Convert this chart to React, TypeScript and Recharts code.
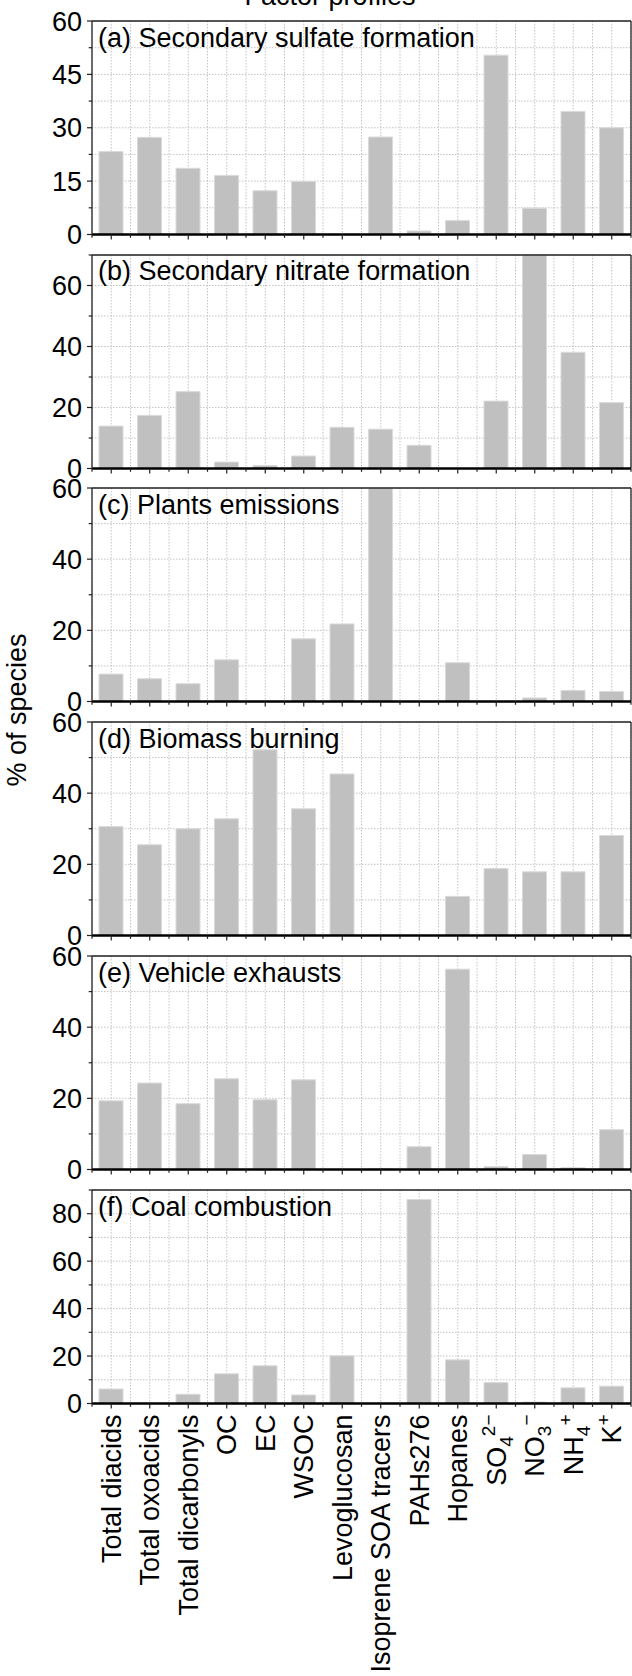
import React from 'react';
import { BarChart, Bar, XAxis, YAxis, CartesianGrid, ReferenceLine } from 'recharts';

// ---------- data ----------
const categories = [
  'Total diacids',
  'Total oxoacids',
  'Total dicarbonyls',
  'OC',
  'EC',
  'WSOC',
  'Levoglucosan',
  'Isoprene SOA tracers',
  'PAHs276',
  'Hopanes',
  'SO_{4}^{2−}',
  'NO_{3}^{−}',
  'NH_{4}^{+}',
  'K^{+}',
];

const sulfate = [23.3, 27.3, 18.6, 16.6, 12.3, 14.9, 0, 27.4, 1.0, 3.9, 50.4, 7.4, 34.6, 30.0];
const nitrate = [13.9, 17.4, 25.2, 2.1, 1.0, 4.1, 13.5, 12.9, 7.6, 0, 22.1, 70, 38.1, 21.6];
const plants = [7.7, 6.4, 5.0, 11.7, 0, 17.6, 21.8, 60, 0, 10.9, 0, 1.0, 3.1, 2.8];
const biomass = [30.6, 25.5, 30.0, 32.8, 52.2, 35.6, 45.4, 0, 0, 11.0, 18.8, 17.9, 17.9, 28.1];
const vehicle = [19.3, 24.3, 18.5, 25.5, 19.6, 25.2, 0, 0.3, 6.4, 56.3, 0.8, 4.2, 0.5, 11.2];
const coal = [6.1, 0, 3.9, 12.5, 15.9, 3.6, 20.1, 0, 86.0, 18.4, 8.8, 0.6, 6.6, 7.3];

const ticksA = [0, 7.5, 15, 22.5, 30, 37.5, 45, 52.5, 60];
const labelsA = [0, 15, 30, 45, 60];
const ticksB = [0, 10, 20, 30, 40, 50, 60, 70];
const ticks60 = [0, 10, 20, 30, 40, 50, 60];
const labels60 = [0, 20, 40, 60];
const ticksF = [0, 10, 20, 30, 40, 50, 60, 70, 80, 90];
const labelsF = [0, 20, 40, 60, 80];

const panelTitles = [
  '(a) Secondary sulfate formation',
  '(b) Secondary nitrate formation',
  '(c) Plants emissions',
  '(d) Biomass burning',
  '(e) Vehicle exhausts',
  '(f) Coal combustion',
];

// ---------- derived tables ----------
const tableData = categories.map((name, i) => ({
  name,
  pos: i + 0.5,
  sulfate: sulfate[i],
  nitrate: nitrate[i],
  plants: plants[i],
  biomass: biomass[i],
  vehicle: vehicle[i],
  coal: coal[i],
}));

const xTicks = categories.flatMap((_, i) => [i, i + 0.5]).concat([categories.length]);

const panels = [
  { key: 'sulfate', title: panelTitles[0], max: 60, ticks: ticksA, labels: labelsA },
  { key: 'nitrate', title: panelTitles[1], max: 70, ticks: ticksB, labels: labels60 },
  { key: 'plants', title: panelTitles[2], max: 60, ticks: ticks60, labels: labels60 },
  { key: 'biomass', title: panelTitles[3], max: 60, ticks: ticks60, labels: labels60 },
  { key: 'vehicle', title: panelTitles[4], max: 60, ticks: ticks60, labels: labels60 },
  { key: 'coal', title: panelTitles[5], max: 90, ticks: ticksF, labels: labelsF },
];

// ---------- layout ----------
const W = 632;
const H = 1676;
const AXIS_W = 92;
const PLOT_TOP0 = 20.7;
const PITCH = 233.8;
const PLOT_H = 213.5;
const TOP_M = 20;
const XAX_H = 22;
const FONT = '"Liberation Sans", Arial, Helvetica, sans-serif';
const FS = 27;
const AXIS_COLOR = '#222';

type Seg = { t: string; s: 'n' | 'sub' | 'sup' };
function parseLabel(label: string): Seg[] {
  const parts = label.split(/(_\{[^}]*\}|\^\{[^}]*\})/).filter((p) => p.length > 0);
  return parts.map((p) => {
    if (p.startsWith('_{')) return { t: p.slice(2, -1), s: 'sub' as const };
    if (p.startsWith('^{')) return { t: p.slice(2, -1), s: 'sup' as const };
    return { t: p, s: 'n' as const };
  });
}

const RichText = ({ label }: { label: string }) => {
  const segs = parseLabel(label);
  let cur = 0;
  return (
    <>
      {segs.map((sg, i) => {
        const target = sg.s === 'sub' ? 7 : sg.s === 'sup' ? -11 : 0;
        const dy = target - cur;
        cur = target;
        return (
          <tspan key={i} dy={dy !== 0 ? dy : undefined} fontSize={sg.s === 'n' ? FS : 19}>
            {sg.t}
          </tspan>
        );
      })}
    </>
  );
};

const YTick = (props: any) => {
  const { x, y, payload, majors } = props;
  const major = majors.includes(payload.value);
  return (
    <g>
      <line x1={x - (major ? 5 : 3.3)} x2={x} y1={y} y2={y} stroke={AXIS_COLOR} strokeWidth={1.2} />
      {major && (
        <text x={x - 10} y={y} dy="0.355em" textAnchor="end" fontSize={FS} fontFamily={FONT} fill="#000">
          {payload.value}
        </text>
      )}
    </g>
  );
};

const XTick = (props: any) => {
  const { x, y, payload, showLabels } = props;
  const v = payload.value as number;
  const major = Math.abs(v - Math.floor(v) - 0.5) < 1e-6;
  const label = major ? categories[Math.floor(v)] : null;
  return (
    <g>
      <line x1={x} x2={x} y1={y} y2={y + (major ? 5 : 3.3)} stroke={AXIS_COLOR} strokeWidth={1.2} />
      {showLabels && label && (
        <g transform={`translate(${x},${y + 11}) rotate(-90)`}>
          <text x={0} y={0} dy="0.36em" textAnchor="end" fontSize={FS} fontFamily={FONT} fill="#000">
            <RichText label={label} />
          </text>
        </g>
      )}
    </g>
  );
};

const Panel = ({ idx }: { idx: number }) => {
  const p = panels[idx];
  const last = idx === panels.length - 1;
  const plotTop = PLOT_TOP0 + idx * PITCH;
  const xh = last ? H - (plotTop + PLOT_H) : XAX_H;
  const chartH = TOP_M + PLOT_H + xh;
  return (
    <div style={{ position: 'absolute', left: 0, top: plotTop - TOP_M, width: W, height: chartH }}>
      <BarChart
        width={W}
        height={chartH}
        data={tableData}
        margin={{ top: TOP_M, right: 1, bottom: 0, left: 0 }}
        style={{ overflow: 'visible' }}
      >
        <CartesianGrid stroke="#c4c4c4" strokeDasharray="1.5 1.5" strokeWidth={1} />
        <XAxis
          type="number"
          dataKey="pos"
          domain={[0, categories.length]}
          ticks={xTicks}
          interval={0}
          height={xh}
          tickSize={0}
          tickMargin={0}
          tickLine={false}
          axisLine={{ stroke: '#000', strokeWidth: 2.5 }}
          tick={(tp: any) => <XTick {...tp} showLabels={last} />}
        />
        <YAxis
          type="number"
          domain={[0, p.max]}
          ticks={p.ticks}
          interval={0}
          allowDataOverflow
          width={AXIS_W}
          tickSize={0}
          tickMargin={0}
          tickLine={false}
          axisLine={{ stroke: AXIS_COLOR, strokeWidth: 1.3 }}
          tick={(tp: any) => <YTick {...tp} majors={p.labels} />}
        />
        <ReferenceLine y={p.max} stroke={AXIS_COLOR} strokeWidth={1.3} />
        <ReferenceLine x={categories.length} stroke={AXIS_COLOR} strokeWidth={1.3} />
        <Bar
          dataKey={p.key}
          fill="#c0c0c0"
          stroke="#dadada"
          strokeWidth={1}
          barSize={24}
          isAnimationActive={false}
        />
      </BarChart>
    </div>
  );
};

export default function App() {
  return (
    <div
      style={{
        position: 'absolute',
        left: 0,
        top: 0,
        width: W,
        height: H,
        background: '#fff',
        fontFamily: FONT,
        overflow: 'hidden',
      }}
    >
      {panels.map((_, i) => (
        <Panel key={i} idx={i} />
      ))}
      <svg
        width={W}
        height={H}
        style={{ position: 'absolute', left: 0, top: 0, pointerEvents: 'none' }}
      >
        <text x={330} y={5} textAnchor="middle" fontSize={FS} fontFamily={FONT} fill="#000">
          Factor profiles
        </text>
        <g transform={`translate(26, 710) rotate(-90)`}>
          <text x={0} y={0} textAnchor="middle" fontSize={FS} fontFamily={FONT} fill="#000">
            % of species
          </text>
        </g>
        {panels.map((p, i) => (
          <text
            key={p.key}
            x={98}
            y={PLOT_TOP0 + i * PITCH + 25.8}
            fontSize={FS}
            fontFamily={FONT}
            fill="#000"
          >
            {p.title}
          </text>
        ))}
      </svg>
    </div>
  );
}
